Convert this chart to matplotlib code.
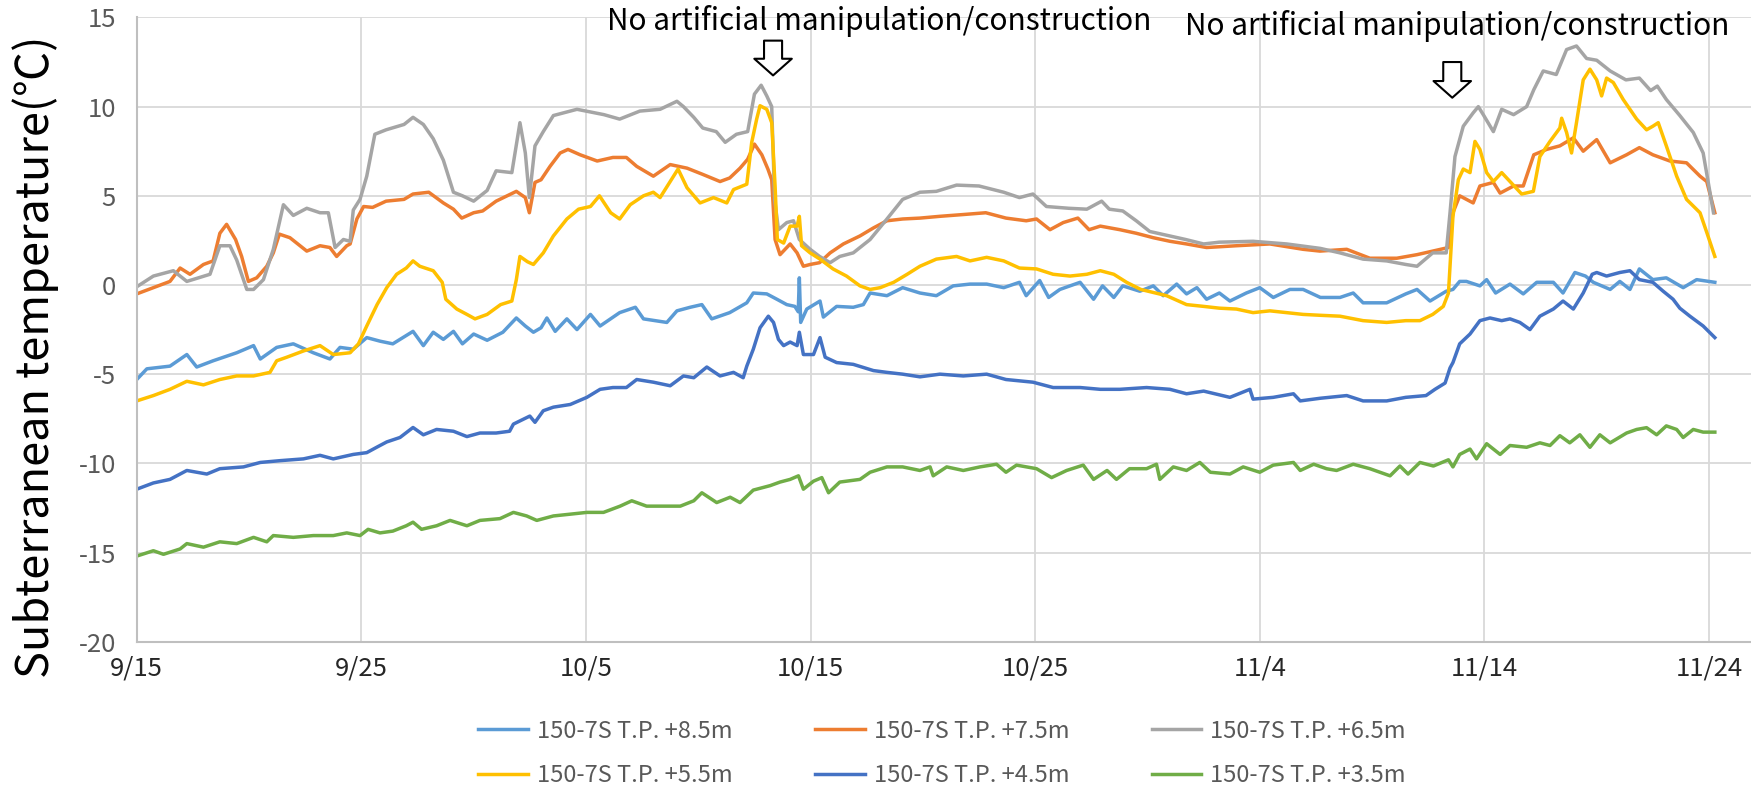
import matplotlib
matplotlib.use("Agg")
import matplotlib.pyplot as plt

plt.rcParams['font.family'] = ['Noto Sans CJK JP', 'DejaVu Sans']
plt.rcParams['xtick.labelsize'] = 18.5
plt.rcParams['ytick.labelsize'] = 18.5

# days after 9/15 and temperature (degC)
d85 = [0, 0.45, 1.48, 2.23, 2.67, 3.4, 4.45, 5.2, 5.5, 6.23, 6.97, 7.86, 8.6, 9.05, 9.64, 10.24, 10.83, 11.4,
       12.3, 12.76, 13.2, 13.65, 14.1, 14.5, 15.0, 15.6, 16.3, 16.9, 17.3, 17.66, 18.0, 18.26, 18.63, 19.15,
       19.6, 20.2, 20.63, 21.5, 22.2, 22.56, 23.6, 24.05, 24.64, 25.16, 25.6, 26.4, 27.16, 27.45, 28.05, 28.5,
       28.94, 29.3, 29.45, 29.5, 29.56, 29.83, 30.42, 30.57, 31.16, 31.9, 32.35, 32.65, 33.4, 34.1, 34.87,
       35.6, 36.35, 37.1, 37.84, 38.6, 39.3, 39.6, 40.2, 40.6, 41.1, 42.0, 42.6, 43.0, 43.5, 43.9, 44.66,
       45.26, 45.7, 46.3, 46.74, 47.2, 47.63, 48.2, 48.67, 49.4, 50.0, 50.6, 51.34, 51.93, 52.7, 53.57, 54.16,
       54.6, 55.65, 56.5, 57.0, 57.58, 58.3, 58.6, 58.9, 59.2, 59.8, 60.1, 60.5, 61.14, 61.73, 62.33, 63.07,
       63.5, 64.03, 64.5, 64.85, 65.6, 66.03, 66.48, 66.9, 67.5, 68.1, 68.85, 69.45, 70.26]
t85 = [-5.3, -4.7, -4.55, -3.9, -4.6, -4.25, -3.8, -3.4, -4.15, -3.5, -3.3, -3.8, -4.15, -3.5, -3.6, -2.95,
       -3.15, -3.3, -2.6, -3.4, -2.65, -3.05, -2.6, -3.3, -2.75, -3.1, -2.65, -1.85, -2.3, -2.65, -2.4, -1.85,
       -2.6, -1.9, -2.5, -1.65, -2.3, -1.55, -1.25, -1.9, -2.1, -1.45, -1.25, -1.1, -1.9, -1.55, -1.0, -0.45,
       -0.5, -0.8, -1.1, -1.2, -1.5, 0.4, -2.1, -1.35, -0.9, -1.8, -1.2, -1.25, -1.1, -0.45, -0.6, -0.15,
       -0.45, -0.6, -0.05, 0.05, 0.05, -0.15, 0.15, -0.6, 0.25, -0.7, -0.25, 0.15, -0.8, -0.05, -0.7, -0.05,
       -0.35, -0.05, -0.6, 0.05, -0.5, -0.15, -0.8, -0.45, -0.9, -0.45, -0.15, -0.7, -0.25, -0.25, -0.7, -0.7,
       -0.45, -1.0, -1.0, -0.5, -0.25, -0.9, -0.35, -0.25, 0.2, 0.2, -0.05, 0.3, -0.45, 0.05, -0.5, 0.15, 0.15,
       -0.45, 0.7, 0.5, 0.15, -0.25, 0.2, -0.25, 0.9, 0.3, 0.4, -0.15, 0.3, 0.15]

d75 = [0, 0.74, 1.48, 1.93, 2.37, 2.97, 3.4, 3.7, 4.0, 4.4, 4.67, 4.97, 5.34, 5.79, 6.08, 6.35, 6.82, 7.57,
       8.16, 8.6, 8.9, 9.35, 9.5, 9.8, 10.1, 10.5, 11.1, 11.9, 12.3, 13.0, 13.65, 14.1, 14.47, 15.0, 15.4,
       16.0, 16.9, 17.3, 17.48, 17.73, 18.0, 18.4, 18.85, 19.2, 19.74, 20.5, 21.2, 21.8, 22.26, 23.0, 23.75,
       24.5, 25.2, 25.97, 26.4, 26.86, 27.2, 27.5, 27.83, 28.1, 28.27, 28.42, 28.64, 29.09, 29.4, 29.68,
       29.98, 30.4, 30.87, 31.46, 32.2, 32.8, 33.4, 34.1, 34.87, 35.76, 36.8, 37.8, 38.7, 39.6, 40.06, 40.66,
       41.25, 41.9, 42.4, 42.9, 43.77, 44.5, 45.26, 46.0, 46.74, 47.63, 48.96, 50.45, 51.93, 52.68, 53.87,
       54.9, 56.1, 57.0, 57.7, 58.4, 58.6, 58.9, 59.5, 59.8, 60.4, 60.7, 61.3, 61.73, 62.2, 62.77, 63.36,
       63.96, 64.4, 65.0, 65.6, 66.33, 66.9, 67.5, 68.26, 69.0, 69.6, 69.9, 70.26]
t75 = [-0.5, -0.15, 0.2, 0.95, 0.6, 1.15, 1.35, 2.9, 3.4, 2.55, 1.6, 0.2, 0.4, 1.05, 1.8, 2.85, 2.65, 1.9,
       2.2, 2.1, 1.6, 2.2, 2.3, 3.7, 4.4, 4.35, 4.7, 4.8, 5.1, 5.2, 4.6, 4.25, 3.75, 4.05, 4.15, 4.7, 5.25,
       4.9, 4.05, 5.75, 5.9, 6.65, 7.4, 7.6, 7.3, 6.95, 7.15, 7.15, 6.65, 6.1, 6.75, 6.55, 6.2, 5.8, 6.0,
       6.55, 7.05, 7.9, 7.3, 6.5, 5.9, 2.55, 1.7, 2.3, 1.8, 1.05, 1.15, 1.25, 1.8, 2.3, 2.75, 3.2, 3.6, 3.7,
       3.75, 3.85, 3.95, 4.05, 3.75, 3.6, 3.7, 3.1, 3.5, 3.75, 3.1, 3.3, 3.1, 2.9, 2.65, 2.45, 2.3, 2.1, 2.2,
       2.3, 2.0, 1.9, 2.0, 1.5, 1.5, 1.7, 1.9, 2.1, 4.05, 5.0, 4.6, 5.55, 5.75, 5.15, 5.55, 5.55, 7.3, 7.6,
       7.8, 8.25, 7.5, 8.15, 6.85, 7.3, 7.7, 7.3, 6.95, 6.85, 6.1, 5.8, 4.05]

d65 = [0, 0.74, 1.63, 2.23, 3.26, 3.7, 4.15, 4.45, 4.9, 5.2, 5.64, 6.08, 6.53, 6.97, 7.57, 8.16, 8.53, 8.83,
       9.2, 9.5, 9.64, 9.94, 10.24, 10.6, 11.1, 11.9, 12.3, 12.76, 13.2, 13.65, 14.1, 14.5, 15.0, 15.6, 16.0,
       16.7, 17.06, 17.3, 17.48, 17.73, 18.1, 18.55, 19.6, 20.8, 21.5, 22.4, 23.3, 24.05, 24.34, 24.8, 25.2,
       25.8, 26.2, 26.7, 27.2, 27.5, 27.8, 28.05, 28.27, 28.4, 28.57, 28.94, 29.24, 29.5, 29.98, 30.4, 30.87,
       31.3, 31.9, 32.65, 33.4, 34.1, 34.87, 35.6, 36.5, 37.5, 38.6, 39.3, 39.9, 40.5, 41.5, 42.3, 42.96,
       43.3, 43.9, 44.5, 45.1, 46.0, 46.7, 47.5, 48.2, 49.7, 51.2, 52.7, 53.57, 54.6, 55.65, 56.5, 57.0,
       57.7, 58.3, 58.47, 58.69, 59.06, 59.5, 59.73, 59.95, 60.4, 60.77, 61.3, 61.88, 62.2, 62.62, 63.2,
       63.66, 64.1, 64.55, 65.0, 65.6, 66.3, 66.9, 67.4, 67.7, 68.1, 68.7, 69.3, 69.74, 70.2]
t65 = [-0.1, 0.5, 0.8, 0.2, 0.6, 2.2, 2.2, 1.4, -0.25, -0.25, 0.3, 2.0, 4.5, 3.9, 4.3, 4.05, 4.05, 2.1,
       2.55, 2.45, 4.2, 4.8, 6.1, 8.45, 8.7, 9.0, 9.4, 9.0, 8.2, 7.0, 5.2, 5.0, 4.7, 5.3, 6.4, 6.3, 9.1, 7.4,
       4.9, 7.8, 8.6, 9.5, 9.85, 9.55, 9.3, 9.75, 9.85, 10.3, 10.0, 9.4, 8.8, 8.6, 8.0, 8.45, 8.6, 10.7, 11.2,
       10.6, 10.0, 4.8, 3.1, 3.5, 3.6, 2.55, 2.0, 1.6, 1.25, 1.6, 1.8, 2.55, 3.7, 4.8, 5.2, 5.25, 5.6, 5.55,
       5.2, 4.9, 5.1, 4.4, 4.3, 4.25, 4.7, 4.25, 4.15, 3.6, 3.0, 2.75, 2.55, 2.3, 2.4, 2.45, 2.3, 2.05, 1.8,
       1.45, 1.35, 1.15, 1.05, 1.8, 1.8, 4.05, 7.2, 8.9, 9.65, 10.0, 9.55, 8.6, 9.85, 9.55, 10.0, 10.95, 12.0,
       11.8, 13.2, 13.4, 12.7, 12.6, 12.0, 11.5, 11.6, 10.9, 11.15, 10.4, 9.5, 8.55, 7.4, 4.05]

d55 = [0, 0.74, 1.48, 2.23, 2.97, 3.7, 4.45, 5.2, 5.93, 6.23, 6.68, 7.42, 8.16, 8.75, 9.5, 9.87, 10.24, 10.7,
       11.13, 11.57, 12.0, 12.3, 12.6, 13.2, 13.6, 13.76, 14.25, 14.7, 15.06, 15.6, 16.2, 16.7, 16.9, 17.06,
       17.4, 17.66, 18.1, 18.55, 19.15, 19.67, 20.2, 20.6, 21.1, 21.5, 21.97, 22.56, 23.0, 23.3, 23.75, 24.1,
       24.5, 25.08, 25.68, 26.27, 26.57, 27.16, 27.38, 27.6, 27.75, 28.05, 28.27, 28.42, 28.52, 28.8, 29.09,
       29.4, 29.5, 29.6, 29.98, 30.42, 31.0, 31.6, 32.2, 32.65, 33.1, 33.7, 34.3, 34.87, 35.6, 36.5, 37.1,
       37.84, 38.6, 39.3, 40.06, 40.8, 41.55, 42.3, 42.9, 43.5, 44.07, 44.7, 45.85, 46.74, 47.5, 48.2, 48.96,
       49.7, 50.45, 51.2, 51.93, 52.7, 53.57, 54.6, 55.65, 56.5, 57.13, 57.7, 58.17, 58.4, 58.47, 58.6,
       58.84, 59.06, 59.36, 59.58, 59.8, 60.1, 60.4, 60.77, 61.14, 61.66, 62.18, 62.47, 62.92, 63.36, 63.44,
       63.66, 63.88, 64.1, 64.4, 64.7, 65.0, 65.22, 65.44, 65.74, 66.18, 66.78, 67.22, 67.5, 67.74, 68.1,
       68.56, 69.0, 69.6, 69.9, 70.26]
t55 = [-6.5, -6.2, -5.85, -5.4, -5.6, -5.3, -5.1, -5.1, -4.9, -4.25, -4.05, -3.7, -3.4, -3.9, -3.8, -3.3,
       -2.3, -1.1, -0.15, 0.6, 0.95, 1.35, 1.05, 0.8, 0.15, -0.8, -1.35, -1.65, -1.9, -1.65, -1.1, -0.9, 0.3,
       1.6, 1.3, 1.15, 1.8, 2.75, 3.7, 4.25, 4.4, 5.0, 4.05, 3.7, 4.5, 5.0, 5.2, 4.9, 5.8, 6.5, 5.45, 4.6, 4.9,
       4.6, 5.35, 5.65, 8.0, 9.3, 10.05, 9.85, 9.1, 5.55, 2.55, 2.35, 3.3, 3.3, 3.85, 2.2, 1.8, 1.45, 0.9,
       0.5, -0.05, -0.25, -0.15, 0.15, 0.6, 1.05, 1.45, 1.6, 1.35, 1.55, 1.35, 0.95, 0.9, 0.6, 0.5, 0.6, 0.8,
       0.6, 0.15, -0.25, -0.6, -1.1, -1.2, -1.3, -1.35, -1.55, -1.45, -1.55, -1.65, -1.7, -1.75, -2.0, -2.1,
       -2.0, -2.0, -1.65, -1.2, -0.45, 1.05, 3.85, 5.9, 6.5, 6.3, 8.05, 7.6, 6.3, 5.8, 6.3, 5.8, 5.1, 5.25,
       7.2, 8.05, 8.8, 9.35, 8.55, 7.4, 9.1, 11.5, 12.1, 11.5, 10.6, 11.6, 11.35, 10.4, 9.3, 8.7, 8.9, 9.1,
       7.8, 6.1, 4.8, 4.05, 2.95, 1.6]

d45 = [0, 0.74, 1.48, 2.23, 3.12, 3.7, 4.75, 5.5, 6.38, 7.42, 8.16, 8.75, 9.64, 10.24, 10.68, 11.13, 11.72,
       12.3, 12.76, 13.35, 14.1, 14.7, 15.28, 16.0, 16.6, 16.77, 17.5, 17.73, 18.1, 18.55, 19.3, 20.04,
       20.63, 21.2, 21.8, 22.26, 23.0, 23.75, 24.34, 24.8, 25.38, 25.97, 26.57, 27.0, 27.16, 27.45, 27.75,
       28.12, 28.35, 28.57, 28.8, 29.09, 29.4, 29.5, 29.68, 30.13, 30.42, 30.65, 31.16, 31.9, 32.8, 33.4,
       34.1, 34.87, 35.76, 36.8, 37.84, 38.7, 39.9, 40.8, 42.0, 42.9, 43.77, 44.96, 46.0, 46.74, 47.5, 48.67,
       49.56, 49.7, 50.6, 51.5, 51.8, 52.7, 53.87, 54.6, 55.65, 56.5, 57.4, 57.8, 58.25, 58.47, 58.6, 58.9,
       59.36, 59.8, 60.25, 60.77, 61.14, 61.58, 62.03, 62.47, 63.07, 63.5, 63.96, 64.4, 64.8, 65.0, 65.44,
       66.03, 66.48, 66.9, 67.5, 67.96, 68.4, 68.7, 69.15, 69.74, 70.26]
t45 = [-11.45, -11.1, -10.9, -10.4, -10.6, -10.3, -10.2, -9.95, -9.85, -9.75, -9.55, -9.75, -9.5, -9.4,
       -9.1, -8.8, -8.55, -7.99, -8.4, -8.1, -8.2, -8.5, -8.3, -8.3, -8.2, -7.8, -7.35, -7.7, -7.05, -6.85,
       -6.7, -6.3, -5.85, -5.75, -5.75, -5.3, -5.45, -5.65, -5.1, -5.2, -4.6, -5.1, -4.9, -5.2, -4.55, -3.6,
       -2.4, -1.75, -2.1, -3.05, -3.4, -3.2, -3.4, -2.65, -3.9, -3.9, -2.95, -4.05, -4.35, -4.45, -4.8, -4.9,
       -5.0, -5.15, -5.0, -5.1, -5.0, -5.3, -5.45, -5.75, -5.75, -5.85, -5.85, -5.75, -5.85, -6.1, -5.95,
       -6.3, -5.85, -6.4, -6.3, -6.1, -6.5, -6.35, -6.2, -6.5, -6.5, -6.3, -6.2, -5.85, -5.5, -4.65, -4.35,
       -3.3, -2.75, -2.0, -1.85, -2.0, -1.9, -2.1, -2.5, -1.75, -1.35, -0.9, -1.35, -0.45, 0.6, 0.7, 0.5, 0.7,
       0.8, 0.3, 0.15, -0.35, -0.8, -1.3, -1.75, -2.3, -2.95]

d35 = [0, 0.74, 1.19, 1.93, 2.23, 2.97, 3.7, 4.45, 5.2, 5.79, 6.08, 6.97, 7.86, 8.75, 9.35, 9.94, 10.3,
       10.83, 11.4, 12.0, 12.3, 12.68, 13.35, 13.95, 14.7, 15.28, 16.17, 16.77, 17.36, 17.81, 18.55, 19.3,
       20.04, 20.78, 21.52, 22.04, 22.7, 23.45, 24.2, 24.8, 25.16, 25.82, 26.42, 26.86, 27.45, 28.2, 28.64,
       29.09, 29.46, 29.68, 30.13, 30.5, 30.8, 31.3, 32.2, 32.65, 33.4, 34.1, 34.87, 35.32, 35.46, 36.06,
       36.8, 37.54, 38.28, 38.7, 39.17, 40.06, 40.73, 41.4, 42.14, 42.6, 43.2, 43.62, 44.2, 44.96, 45.4,
       45.55, 46.15, 46.74, 47.33, 47.8, 48.67, 49.26, 50.0, 50.6, 51.5, 51.8, 52.4, 52.97, 53.42, 54.16,
       54.9, 55.8, 56.24, 56.6, 57.13, 57.73, 58.4, 58.6, 58.9, 59.36, 59.65, 60.1, 60.7, 61.14, 61.88,
       62.47, 62.92, 63.36, 63.8, 64.25, 64.7, 65.14, 65.6, 66.33, 66.78, 67.22, 67.67, 68.1, 68.56, 68.85,
       69.3, 69.74, 70.26]
t35 = [-15.2, -14.9, -15.1, -14.8, -14.5, -14.7, -14.4, -14.5, -14.15, -14.4, -14.05, -14.15, -14.05,
       -14.05, -13.9, -14.05, -13.7, -13.9, -13.8, -13.5, -13.3, -13.7, -13.5, -13.2, -13.5, -13.2, -13.1,
       -12.75, -12.95, -13.2, -12.95, -12.85, -12.75, -12.75, -12.4, -12.1, -12.4, -12.4, -12.4, -12.1,
       -11.65, -12.2, -11.9, -12.2, -11.5, -11.25, -11.05, -10.9, -10.7, -11.45, -11.0, -10.8, -11.65,
       -11.05, -10.9, -10.5, -10.2, -10.2, -10.4, -10.2, -10.7, -10.2, -10.4, -10.2, -10.05, -10.5, -10.1,
       -10.3, -10.8, -10.4, -10.1, -10.9, -10.4, -10.9, -10.3, -10.3, -10.05, -10.9, -10.2, -10.4, -9.95,
       -10.5, -10.6, -10.2, -10.5, -10.1, -9.95, -10.4, -10.05, -10.3, -10.4, -10.05, -10.3, -10.7, -10.15,
       -10.6, -9.95, -10.15, -9.8, -10.2, -9.5, -9.2, -9.75, -8.9, -9.5, -9.0, -9.1, -8.85, -9.0, -8.45,
       -8.85, -8.4, -9.1, -8.4, -8.85, -8.3, -8.1, -8.0, -8.4, -7.9, -8.1, -8.55, -8.1, -8.25, -8.25]

labels = ['150-7S T.P. +8.5m', '150-7S T.P. +7.5m', '150-7S T.P. +6.5m',
          '150-7S T.P. +5.5m', '150-7S T.P. +4.5m', '150-7S T.P. +3.5m']
colors = ['#5B9BD5', '#ED7D31', '#A5A5A5', '#FFC000', '#4472C4', '#70AD47']
series = [(d85, t85), (d75, t75), (d65, t65), (d55, t55), (d45, t45), (d35, t35)]

tick_days = [0, 10, 20, 30, 40, 50, 60, 70]
tick_labels = ['9/15', '9/25', '10/5', '10/15', '10/25', '11/4', '11/14', '11/24']
y_ticks = [-20, -15, -10, -5, 0, 5, 10, 15]

note = 'No artificial manipulation/construction'
# (day, temp) of arrow tip, arrow top, text centre
notes = [((28.33, 11.75), (28.33, 13.7), (33.05, 14.8)),
         ((58.57, 10.5), (58.57, 12.5), (58.8, 14.5))]

fig = plt.figure(figsize=(17.51, 7.93), dpi=100)
ax = fig.add_axes([0.0781, 0.1908, 0.9219, 0.7872])

lines = []
for (d, t), lab, c in zip(series, labels, colors):
    ln, = ax.plot(d, t, color=c, lw=2.5, label=lab, solid_joinstyle='round')
    lines.append(ln)

ax.set_xlim(0, 71.87)
ax.set_ylim(-20, 15)
ax.set_yticks(y_ticks)
ax.set_yticklabels([str(v) for v in y_ticks])
ax.set_xticks(tick_days)
ax.set_xticklabels(tick_labels)
ax.grid(True, color='#d9d9d9', lw=1.3)
ax.set_axisbelow(True)
for s in ['top', 'right']:
    ax.spines[s].set_visible(False)
for s in ['left', 'bottom']:
    ax.spines[s].set_color('#bfbfbf')
    ax.spines[s].set_linewidth(1.5)
ax.tick_params(axis='y', length=0, pad=15, labelsize=18.5, labelcolor='#595959')
ax.tick_params(axis='x', length=0, pad=10, labelsize=18.5, labelcolor='#262626')

fig.text(0.0205, 0.55, 'Subterranean temperature(℃)', rotation=90, fontsize=32.5,
         ha='center', va='center', color='black')

for tip, top, txt in notes:
    ax.annotate('', xy=tip, xytext=top,
                arrowprops=dict(arrowstyle='simple,head_length=12,head_width=27,tail_width=13',
                                mutation_scale=1, fc='white', ec='black', lw=1.5,
                                shrinkA=0, shrinkB=0),
                annotation_clip=False)
    ax.text(txt[0], txt[1], note, fontsize=21.5, ha='center', va='center', color='black', clip_on=False)

order = [0, 3, 1, 4, 2, 5]
fig.legend([lines[i] for i in order], [labels[i] for i in order], ncol=3, loc='center',
           bbox_to_anchor=(0.538, 0.05), frameon=False, handlelength=2.1, handletextpad=0.38,
           columnspacing=3.5, labelspacing=0.9, fontsize=17, labelcolor='#595959')

fig.savefig('out.png', dpi=100)
